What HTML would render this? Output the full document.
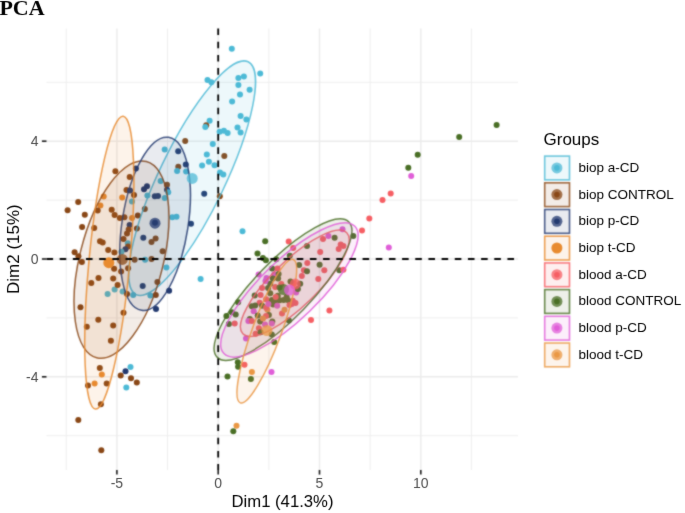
<!DOCTYPE html>
<html><head><meta charset="utf-8"><style>
html,body{margin:0;padding:0;background:#fff;width:685px;height:513px;overflow:hidden}
svg{display:block}
#w{position:absolute;left:0;top:0;width:685px;height:513px;will-change:transform}
text{font-family:"Liberation Sans",sans-serif}
.tk{font-size:14px;fill:#4D4D4D}
.ax{font-size:16.7px;fill:#000}
.lt{font-size:17px;fill:#000}
.lg{font-size:13.5px;fill:#000}
.ttl{font-family:"Liberation Serif",serif;font-weight:bold;font-size:22px;fill:#000}
</style></head><body><div id="w">
<svg width="685" height="513" viewBox="0 0 685 513">
<defs><filter id="bl" x="0" y="0" width="685" height="513" filterUnits="userSpaceOnUse" color-interpolation-filters="sRGB"><feConvolveMatrix order="3" kernelMatrix="1 2 1 2 10 2 1 2 1" divisor="22" edgeMode="duplicate"/></filter><filter id="bt" x="0" y="0" width="685" height="513" filterUnits="userSpaceOnUse" color-interpolation-filters="sRGB"><feConvolveMatrix order="3" kernelMatrix="0 1 0 1 12 1 0 1 0" divisor="16" edgeMode="duplicate"/></filter></defs>
<g filter="url(#bl)"><rect x="0" y="0" width="685" height="513" fill="#fff"/>
<line x1="66.25" y1="28.5" x2="66.25" y2="470.0" stroke="#EEEEEE" stroke-width="1.0"/>
<line x1="167.55" y1="28.5" x2="167.55" y2="470.0" stroke="#EEEEEE" stroke-width="1.0"/>
<line x1="268.85" y1="28.5" x2="268.85" y2="470.0" stroke="#EEEEEE" stroke-width="1.0"/>
<line x1="370.15" y1="28.5" x2="370.15" y2="470.0" stroke="#EEEEEE" stroke-width="1.0"/>
<line x1="471.45" y1="28.5" x2="471.45" y2="470.0" stroke="#EEEEEE" stroke-width="1.0"/>
<line x1="46.5" y1="82.30" x2="518.0" y2="82.30" stroke="#EEEEEE" stroke-width="1.0"/>
<line x1="46.5" y1="200.10" x2="518.0" y2="200.10" stroke="#EEEEEE" stroke-width="1.0"/>
<line x1="46.5" y1="317.90" x2="518.0" y2="317.90" stroke="#EEEEEE" stroke-width="1.0"/>
<line x1="46.5" y1="435.70" x2="518.0" y2="435.70" stroke="#EEEEEE" stroke-width="1.0"/>
<line x1="116.90" y1="28.5" x2="116.90" y2="470.0" stroke="#EBEBEB" stroke-width="1.4"/>
<line x1="218.20" y1="28.5" x2="218.20" y2="470.0" stroke="#EBEBEB" stroke-width="1.4"/>
<line x1="319.50" y1="28.5" x2="319.50" y2="470.0" stroke="#EBEBEB" stroke-width="1.4"/>
<line x1="420.80" y1="28.5" x2="420.80" y2="470.0" stroke="#EBEBEB" stroke-width="1.4"/>
<line x1="46.5" y1="141.20" x2="518.0" y2="141.20" stroke="#EBEBEB" stroke-width="1.4"/>
<line x1="46.5" y1="259.00" x2="518.0" y2="259.00" stroke="#EBEBEB" stroke-width="1.4"/>
<line x1="46.5" y1="376.80" x2="518.0" y2="376.80" stroke="#EBEBEB" stroke-width="1.4"/>
<circle cx="496.6" cy="124.9" r="3.0" fill="#4A6F26"/>
<circle cx="459.2" cy="136.9" r="3.0" fill="#4A6F26"/>
<circle cx="417.7" cy="154.7" r="3.0" fill="#4A6F26"/>
<circle cx="408.3" cy="167.8" r="3.0" fill="#4A6F26"/>
<circle cx="411.2" cy="176.0" r="3.0" fill="#E05FD8"/>
<circle cx="390.7" cy="193.6" r="3.0" fill="#F65F64"/>
<circle cx="382.5" cy="200.0" r="3.0" fill="#F65F64"/>
<circle cx="369.3" cy="218.5" r="3.0" fill="#F65F64"/>
<circle cx="362.0" cy="230.6" r="3.0" fill="#F65F64"/>
<circle cx="353.3" cy="236.1" r="3.0" fill="#4A6F26"/>
<circle cx="388.8" cy="247.4" r="3.0" fill="#E05FD8"/>
<circle cx="342.5" cy="229.3" r="3.0" fill="#E05FD8"/>
<circle cx="328.4" cy="236.1" r="3.0" fill="#E05FD8"/>
<circle cx="323.0" cy="239.1" r="3.0" fill="#F65F64"/>
<circle cx="334.6" cy="237.7" r="3.0" fill="#4A6F26"/>
<circle cx="307.0" cy="245.9" r="3.0" fill="#4A6F26"/>
<circle cx="340.7" cy="244.6" r="3.0" fill="#F65F64"/>
<circle cx="343.4" cy="245.9" r="3.0" fill="#F65F64"/>
<circle cx="338.7" cy="248.9" r="3.0" fill="#F65F64"/>
<circle cx="320.2" cy="252.1" r="3.0" fill="#F65F64"/>
<circle cx="307.3" cy="263.0" r="3.0" fill="#F65F64"/>
<circle cx="299.1" cy="265.0" r="3.0" fill="#4A6F26"/>
<circle cx="319.6" cy="264.8" r="3.0" fill="#4A6F26"/>
<circle cx="324.3" cy="270.2" r="3.0" fill="#F65F64"/>
<circle cx="303.9" cy="270.2" r="3.0" fill="#F65F64"/>
<circle cx="307.0" cy="271.2" r="3.0" fill="#4A6F26"/>
<circle cx="339.3" cy="270.2" r="3.0" fill="#4A6F26"/>
<circle cx="343.4" cy="269.8" r="3.0" fill="#F65F64"/>
<circle cx="242.5" cy="231.3" r="3.0" fill="#4DBAD6"/>
<circle cx="265.2" cy="241.2" r="3.0" fill="#4A6F26"/>
<circle cx="288.7" cy="241.6" r="3.0" fill="#F65F64"/>
<circle cx="257.5" cy="253.4" r="3.0" fill="#4A6F26"/>
<circle cx="262.9" cy="257.9" r="3.0" fill="#4A6F26"/>
<circle cx="265.9" cy="260.3" r="3.0" fill="#4A6F26"/>
<circle cx="276.2" cy="259.3" r="3.0" fill="#4A6F26"/>
<circle cx="289.8" cy="255.7" r="3.0" fill="#4A6F26"/>
<circle cx="293.2" cy="248.0" r="3.0" fill="#F65F64"/>
<circle cx="272.1" cy="268.4" r="3.0" fill="#4A6F26"/>
<circle cx="277.5" cy="268.4" r="3.0" fill="#F65F64"/>
<circle cx="258.6" cy="274.6" r="3.0" fill="#E05FD8"/>
<circle cx="266.5" cy="278.1" r="3.0" fill="#E05FD8"/>
<circle cx="274.2" cy="274.5" r="3.0" fill="#E05FD8"/>
<circle cx="278.6" cy="274.0" r="3.0" fill="#4A6F26"/>
<circle cx="272.8" cy="278.4" r="3.0" fill="#4A6F26"/>
<circle cx="278.1" cy="278.4" r="3.0" fill="#4A6F26"/>
<circle cx="262.0" cy="288.1" r="3.0" fill="#F65F64"/>
<circle cx="260.6" cy="295.0" r="3.0" fill="#F65F64"/>
<circle cx="254.7" cy="295.4" r="3.0" fill="#4A6F26"/>
<circle cx="259.6" cy="302.8" r="3.0" fill="#F65F64"/>
<circle cx="293.7" cy="283.3" r="3.0" fill="#F65F64"/>
<circle cx="292.8" cy="300.8" r="3.0" fill="#F65F64"/>
<circle cx="301.8" cy="275.9" r="3.0" fill="#F65F64"/>
<circle cx="318.3" cy="279.0" r="3.0" fill="#F65F64"/>
<circle cx="300.2" cy="283.7" r="3.0" fill="#4A6F26"/>
<circle cx="296.1" cy="292.4" r="3.0" fill="#E05FD8"/>
<circle cx="297.9" cy="288.9" r="3.0" fill="#4A6F26"/>
<circle cx="329.4" cy="310.6" r="3.0" fill="#F65F64"/>
<circle cx="238.1" cy="302.2" r="3.0" fill="#4A6F26"/>
<circle cx="231.8" cy="312.2" r="3.0" fill="#4A6F26"/>
<circle cx="235.7" cy="314.6" r="3.0" fill="#4A6F26"/>
<circle cx="226.4" cy="316.1" r="3.0" fill="#4A6F26"/>
<circle cx="228.9" cy="323.9" r="3.0" fill="#4A6F26"/>
<circle cx="234.7" cy="323.4" r="3.0" fill="#F65F64"/>
<circle cx="251.8" cy="306.3" r="3.0" fill="#4A6F26"/>
<circle cx="253.7" cy="311.2" r="3.0" fill="#E05FD8"/>
<circle cx="249.8" cy="319.0" r="3.0" fill="#4A6F26"/>
<circle cx="248.4" cy="320.9" r="3.0" fill="#E05FD8"/>
<circle cx="251.8" cy="320.9" r="3.0" fill="#F65F64"/>
<circle cx="260.1" cy="321.4" r="3.0" fill="#4A6F26"/>
<circle cx="265.0" cy="324.4" r="3.0" fill="#E05FD8"/>
<circle cx="258.9" cy="328.2" r="3.0" fill="#F65F64"/>
<circle cx="255.6" cy="333.8" r="3.0" fill="#F65F64"/>
<circle cx="246.0" cy="338.5" r="3.0" fill="#E05FD8"/>
<circle cx="237.8" cy="362.3" r="3.0" fill="#4A6F26"/>
<circle cx="238.1" cy="366.8" r="3.0" fill="#4A6F26"/>
<circle cx="244.5" cy="364.7" r="3.0" fill="#F65F64"/>
<circle cx="251.9" cy="372.0" r="3.0" fill="#EA9845"/>
<circle cx="227.5" cy="376.4" r="3.0" fill="#4A6F26"/>
<circle cx="250.9" cy="379.1" r="3.0" fill="#4A6F26"/>
<circle cx="271.5" cy="372.0" r="3.0" fill="#E05FD8"/>
<circle cx="236.5" cy="425.8" r="3.0" fill="#EA9845"/>
<circle cx="233.3" cy="431.3" r="3.0" fill="#4A6F26"/>
<circle cx="255.2" cy="305.4" r="3.0" fill="#4A6F26"/>
<circle cx="267.4" cy="309.7" r="3.0" fill="#EA9845"/>
<circle cx="262.1" cy="305.8" r="3.0" fill="#4A6F26"/>
<circle cx="282.0" cy="313.6" r="3.0" fill="#F65F64"/>
<circle cx="284.5" cy="309.7" r="3.0" fill="#EA9845"/>
<circle cx="291.8" cy="303.9" r="3.0" fill="#F65F64"/>
<circle cx="257.7" cy="315.6" r="3.0" fill="#4A6F26"/>
<circle cx="268.9" cy="315.1" r="3.0" fill="#4A6F26"/>
<circle cx="266.0" cy="316.1" r="3.0" fill="#F65F64"/>
<circle cx="263.0" cy="318.5" r="3.0" fill="#EA9845"/>
<circle cx="272.3" cy="321.5" r="3.0" fill="#4A6F26"/>
<circle cx="271.8" cy="323.4" r="3.0" fill="#E05FD8"/>
<circle cx="288.9" cy="320.5" r="3.0" fill="#4A6F26"/>
<circle cx="260.6" cy="332.2" r="3.0" fill="#4A6F26"/>
<circle cx="271.8" cy="334.6" r="3.0" fill="#4A6F26"/>
<circle cx="274.2" cy="341.9" r="3.0" fill="#4A6F26"/>
<circle cx="311.0" cy="319.9" r="3.0" fill="#F65F64"/>
<circle cx="295.5" cy="302.9" r="3.0" fill="#F65F64"/>
<circle cx="115.4" cy="171.2" r="3.0" fill="#8A4817"/>
<circle cx="129.7" cy="177.0" r="3.0" fill="#8A4817"/>
<circle cx="135.9" cy="168.6" r="3.0" fill="#233A70"/>
<circle cx="126.5" cy="190.0" r="3.0" fill="#8A4817"/>
<circle cx="130.0" cy="190.6" r="3.0" fill="#233A70"/>
<circle cx="134.0" cy="195.0" r="3.0" fill="#8A4817"/>
<circle cx="147.4" cy="195.5" r="3.0" fill="#4DBAD6"/>
<circle cx="154.8" cy="196.3" r="3.0" fill="#233A70"/>
<circle cx="158.0" cy="196.0" r="3.0" fill="#233A70"/>
<circle cx="103.7" cy="196.5" r="3.0" fill="#E88B30"/>
<circle cx="122.2" cy="197.4" r="3.0" fill="#E88B30"/>
<circle cx="78.2" cy="201.9" r="3.0" fill="#8A4817"/>
<circle cx="67.6" cy="210.3" r="3.0" fill="#8A4817"/>
<circle cx="84.8" cy="214.7" r="3.0" fill="#8A4817"/>
<circle cx="100.4" cy="205.4" r="3.0" fill="#E88B30"/>
<circle cx="97.7" cy="210.5" r="3.0" fill="#8A4817"/>
<circle cx="111.7" cy="209.7" r="3.0" fill="#8A4817"/>
<circle cx="114.6" cy="215.0" r="3.0" fill="#8A4817"/>
<circle cx="160.6" cy="181.1" r="3.0" fill="#4DBAD6"/>
<circle cx="167.0" cy="184.8" r="3.0" fill="#8A4817"/>
<circle cx="167.0" cy="189.8" r="3.0" fill="#233A70"/>
<circle cx="168.2" cy="192.2" r="3.0" fill="#4DBAD6"/>
<circle cx="164.7" cy="198.0" r="3.0" fill="#4DBAD6"/>
<circle cx="132.0" cy="201.5" r="3.0" fill="#4DBAD6"/>
<circle cx="144.8" cy="208.9" r="3.0" fill="#8A4817"/>
<circle cx="124.4" cy="217.3" r="3.0" fill="#8A4817"/>
<circle cx="137.8" cy="215.6" r="3.0" fill="#8A4817"/>
<circle cx="132.0" cy="217.9" r="3.0" fill="#E88B30"/>
<circle cx="172.3" cy="217.3" r="3.0" fill="#4DBAD6"/>
<circle cx="176.5" cy="216.8" r="3.0" fill="#4DBAD6"/>
<circle cx="155.0" cy="222.8" r="3.0" fill="#233A70"/>
<circle cx="178.3" cy="166.8" r="3.0" fill="#8A4817"/>
<circle cx="177.1" cy="171.1" r="3.0" fill="#4DBAD6"/>
<circle cx="185.8" cy="164.4" r="3.0" fill="#233A70"/>
<circle cx="186.1" cy="171.5" r="3.0" fill="#4DBAD6"/>
<circle cx="202.1" cy="165.6" r="3.0" fill="#4DBAD6"/>
<circle cx="208.9" cy="161.8" r="3.0" fill="#4DBAD6"/>
<circle cx="214.5" cy="165.3" r="3.0" fill="#4DBAD6"/>
<circle cx="220.0" cy="172.6" r="3.0" fill="#4DBAD6"/>
<circle cx="223.3" cy="174.6" r="3.0" fill="#4DBAD6"/>
<circle cx="204.2" cy="193.7" r="3.0" fill="#233A70"/>
<circle cx="219.8" cy="196.3" r="3.0" fill="#8A4817"/>
<circle cx="209.6" cy="120.7" r="3.0" fill="#4DBAD6"/>
<circle cx="206.2" cy="125.2" r="3.0" fill="#8A4817"/>
<circle cx="205.3" cy="127.0" r="3.0" fill="#4DBAD6"/>
<circle cx="219.6" cy="131.7" r="3.0" fill="#4DBAD6"/>
<circle cx="185.2" cy="140.9" r="3.0" fill="#8A4817"/>
<circle cx="212.8" cy="143.9" r="3.0" fill="#4DBAD6"/>
<circle cx="164.7" cy="149.4" r="3.0" fill="#4DBAD6"/>
<circle cx="178.2" cy="151.2" r="3.0" fill="#233A70"/>
<circle cx="206.8" cy="154.6" r="3.0" fill="#4DBAD6"/>
<circle cx="232.1" cy="101.6" r="3.0" fill="#4DBAD6"/>
<circle cx="240.6" cy="116.1" r="3.0" fill="#4DBAD6"/>
<circle cx="246.4" cy="119.4" r="3.0" fill="#4DBAD6"/>
<circle cx="223.9" cy="130.7" r="3.0" fill="#4DBAD6"/>
<circle cx="227.6" cy="133.0" r="3.0" fill="#4DBAD6"/>
<circle cx="237.5" cy="127.6" r="3.0" fill="#4DBAD6"/>
<circle cx="240.6" cy="132.5" r="3.0" fill="#4DBAD6"/>
<circle cx="224.3" cy="155.9" r="3.0" fill="#8A4817"/>
<circle cx="207.5" cy="79.9" r="3.0" fill="#4DBAD6"/>
<circle cx="211.4" cy="82.3" r="3.0" fill="#4DBAD6"/>
<circle cx="231.8" cy="48.7" r="3.0" fill="#4DBAD6"/>
<circle cx="238.4" cy="77.9" r="3.0" fill="#4DBAD6"/>
<circle cx="243.9" cy="76.5" r="3.0" fill="#4DBAD6"/>
<circle cx="260.2" cy="73.4" r="3.0" fill="#4DBAD6"/>
<circle cx="238.4" cy="84.9" r="3.0" fill="#4DBAD6"/>
<circle cx="249.6" cy="89.8" r="3.0" fill="#4DBAD6"/>
<circle cx="240.0" cy="94.4" r="3.0" fill="#4DBAD6"/>
<circle cx="82.1" cy="226.9" r="3.0" fill="#8A4817"/>
<circle cx="94.2" cy="228.1" r="3.0" fill="#8A4817"/>
<circle cx="100.0" cy="241.3" r="3.0" fill="#8A4817"/>
<circle cx="102.7" cy="242.5" r="3.0" fill="#8A4817"/>
<circle cx="108.2" cy="249.9" r="3.0" fill="#8A4817"/>
<circle cx="114.4" cy="252.4" r="3.0" fill="#8A4817"/>
<circle cx="74.6" cy="252.2" r="3.0" fill="#8A4817"/>
<circle cx="78.4" cy="256.2" r="3.0" fill="#8A4817"/>
<circle cx="81.9" cy="262.0" r="3.0" fill="#8A4817"/>
<circle cx="114.1" cy="268.8" r="3.0" fill="#8A4817"/>
<circle cx="119.9" cy="217.9" r="3.0" fill="#8A4817"/>
<circle cx="191.0" cy="223.8" r="3.0" fill="#233A70"/>
<circle cx="129.6" cy="224.9" r="3.0" fill="#233A70"/>
<circle cx="128.7" cy="229.6" r="3.0" fill="#8A4817"/>
<circle cx="136.9" cy="228.5" r="3.0" fill="#8A4817"/>
<circle cx="127.0" cy="233.5" r="3.0" fill="#8A4817"/>
<circle cx="143.3" cy="237.8" r="3.0" fill="#233A70"/>
<circle cx="155.6" cy="238.4" r="3.0" fill="#8A4817"/>
<circle cx="151.5" cy="242.1" r="3.0" fill="#8A4817"/>
<circle cx="123.5" cy="239.0" r="3.0" fill="#8A4817"/>
<circle cx="127.8" cy="243.3" r="3.0" fill="#4DBAD6"/>
<circle cx="128.1" cy="246.6" r="3.0" fill="#8A4817"/>
<circle cx="125.4" cy="249.2" r="3.0" fill="#233A70"/>
<circle cx="121.5" cy="251.8" r="3.0" fill="#4DBAD6"/>
<circle cx="162.6" cy="251.3" r="3.0" fill="#8A4817"/>
<circle cx="134.6" cy="259.7" r="3.0" fill="#8A4817"/>
<circle cx="145.1" cy="259.7" r="3.0" fill="#4DBAD6"/>
<circle cx="151.5" cy="258.9" r="3.0" fill="#8A4817"/>
<circle cx="166.4" cy="267.4" r="3.0" fill="#4DBAD6"/>
<circle cx="121.1" cy="271.4" r="3.0" fill="#8A4817"/>
<circle cx="128.1" cy="268.2" r="3.0" fill="#8A4817"/>
<circle cx="98.5" cy="278.0" r="3.0" fill="#8A4817"/>
<circle cx="91.3" cy="282.9" r="3.0" fill="#8A4817"/>
<circle cx="113.2" cy="278.4" r="3.0" fill="#8A4817"/>
<circle cx="107.6" cy="294.0" r="3.0" fill="#4DBAD6"/>
<circle cx="114.6" cy="289.6" r="3.0" fill="#4DBAD6"/>
<circle cx="80.5" cy="307.2" r="3.0" fill="#8A4817"/>
<circle cx="98.3" cy="319.7" r="3.0" fill="#8A4817"/>
<circle cx="86.8" cy="326.7" r="3.0" fill="#8A4817"/>
<circle cx="113.2" cy="325.6" r="3.0" fill="#8A4817"/>
<circle cx="117.6" cy="285.0" r="3.0" fill="#8A4817"/>
<circle cx="122.6" cy="291.6" r="3.0" fill="#4DBAD6"/>
<circle cx="127.0" cy="294.0" r="3.0" fill="#8A4817"/>
<circle cx="133.2" cy="295.1" r="3.0" fill="#4DBAD6"/>
<circle cx="142.7" cy="286.1" r="3.0" fill="#233A70"/>
<circle cx="157.4" cy="281.9" r="3.0" fill="#8A4817"/>
<circle cx="150.4" cy="295.5" r="3.0" fill="#4DBAD6"/>
<circle cx="155.8" cy="295.1" r="3.0" fill="#8A4817"/>
<circle cx="169.1" cy="290.8" r="3.0" fill="#233A70"/>
<circle cx="156.0" cy="309.0" r="3.0" fill="#233A70"/>
<circle cx="123.5" cy="312.7" r="3.0" fill="#8A4817"/>
<circle cx="110.9" cy="340.8" r="3.0" fill="#8A4817"/>
<circle cx="99.8" cy="368.0" r="3.0" fill="#8A4817"/>
<circle cx="101.8" cy="374.4" r="3.0" fill="#E88B30"/>
<circle cx="94.6" cy="383.4" r="3.0" fill="#E88B30"/>
<circle cx="106.7" cy="383.4" r="3.0" fill="#8A4817"/>
<circle cx="88.0" cy="385.5" r="3.0" fill="#8A4817"/>
<circle cx="130.5" cy="366.9" r="3.0" fill="#4DBAD6"/>
<circle cx="125.5" cy="371.2" r="3.0" fill="#233A70"/>
<circle cx="120.7" cy="375.6" r="3.0" fill="#8A4817"/>
<circle cx="131.0" cy="378.3" r="3.0" fill="#8A4817"/>
<circle cx="136.8" cy="382.6" r="3.0" fill="#8A4817"/>
<circle cx="126.3" cy="387.5" r="3.0" fill="#4DBAD6"/>
<circle cx="100.9" cy="404.2" r="3.0" fill="#8A4817"/>
<circle cx="78.3" cy="419.9" r="3.0" fill="#8A4817"/>
<circle cx="101.3" cy="450.2" r="3.0" fill="#8A4817"/>
<circle cx="200.6" cy="278.9" r="3.0" fill="#4DBAD6"/>
<circle cx="281.3" cy="284.1" r="3.0" fill="#F65F64"/>
<circle cx="275.2" cy="287.0" r="3.0" fill="#F65F64"/>
<circle cx="270.2" cy="283.8" r="3.0" fill="#4A6F26"/>
<circle cx="268.1" cy="287.9" r="3.0" fill="#4A6F26"/>
<circle cx="270.2" cy="293.2" r="3.0" fill="#4A6F26"/>
<circle cx="279.5" cy="287.6" r="3.0" fill="#4A6F26"/>
<circle cx="277.8" cy="295.8" r="3.0" fill="#4A6F26"/>
<circle cx="286.6" cy="297.0" r="3.0" fill="#4A6F26"/>
<circle cx="287.7" cy="299.9" r="3.0" fill="#4A6F26"/>
<circle cx="283.6" cy="299.9" r="3.0" fill="#4A6F26"/>
<circle cx="279.5" cy="300.2" r="3.0" fill="#4A6F26"/>
<circle cx="275.5" cy="300.5" r="3.0" fill="#4A6F26"/>
<circle cx="271.9" cy="299.9" r="3.0" fill="#4A6F26"/>
<circle cx="273.1" cy="304.6" r="3.0" fill="#4A6F26"/>
<circle cx="269.6" cy="302.2" r="3.0" fill="#4A6F26"/>
<circle cx="275.7" cy="297.0" r="3.0" fill="#F65F64"/>
<circle cx="266.1" cy="299.3" r="3.0" fill="#F65F64"/>
<circle cx="266.1" cy="307.5" r="3.0" fill="#F65F64"/>
<circle cx="268.4" cy="304.0" r="3.0" fill="#E05FD8"/>
<circle cx="277.2" cy="305.7" r="3.0" fill="#E05FD8"/>
<circle cx="289.5" cy="305.1" r="3.0" fill="#F65F64"/>
<circle cx="265.5" cy="281.0" r="3.0" fill="#E05FD8"/>
<circle cx="290.5" cy="281.5" r="3.0" fill="#4A6F26"/>
<circle cx="144.0" cy="189.2" r="3.0" fill="#233A70"/>
<circle cx="147.0" cy="186.2" r="3.0" fill="#233A70"/>
<ellipse cx="192.1" cy="178.2" rx="129.2" ry="32.9" transform="rotate(-64.3 192.1 178.2)" fill="#4DBAD6" fill-opacity="0.1" stroke="#4DBAD6" stroke-width="1.5" stroke-opacity="0.85"/>
<ellipse cx="121.5" cy="259.6" rx="101.2" ry="41.7" transform="rotate(-75.8 121.5 259.6)" fill="#8A4817" fill-opacity="0.1" stroke="#8A4817" stroke-width="1.5" stroke-opacity="0.85"/>
<ellipse cx="155.1" cy="223.8" rx="87.5" ry="33.0" transform="rotate(-81.1 155.1 223.8)" fill="#233A70" fill-opacity="0.1" stroke="#233A70" stroke-width="1.5" stroke-opacity="0.85"/>
<ellipse cx="109.3" cy="262.6" rx="147.1" ry="20.4" transform="rotate(-84.6 109.3 262.6)" fill="#E88B30" fill-opacity="0.1" stroke="#E88B30" stroke-width="1.5" stroke-opacity="0.85"/>
<ellipse cx="294.8" cy="283.3" rx="72.5" ry="22.7" transform="rotate(-44.2 294.8 283.3)" fill="#F65F64" fill-opacity="0.1" stroke="#F65F64" stroke-width="1.5" stroke-opacity="0.85"/>
<ellipse cx="283.0" cy="289.6" rx="94.4" ry="28.5" transform="rotate(-45.9 283.0 289.6)" fill="#4A6F26" fill-opacity="0.1" stroke="#4A6F26" stroke-width="1.5" stroke-opacity="0.85"/>
<ellipse cx="289.4" cy="289.9" rx="91.3" ry="29.4" transform="rotate(-44.2 289.4 289.9)" fill="#E05FD8" fill-opacity="0.1" stroke="#E05FD8" stroke-width="1.5" stroke-opacity="0.85"/>
<ellipse cx="266.8" cy="331.2" rx="76.4" ry="14.5" transform="rotate(-69.7 266.8 331.2)" fill="#EA9845" fill-opacity="0.1" stroke="#EA9845" stroke-width="1.5" stroke-opacity="0.85"/>
<circle cx="192.2" cy="178.4" r="5.5" fill="#4DBAD6" fill-opacity="0.75"/>
<circle cx="122.3" cy="259.4" r="5.5" fill="#8A4817" fill-opacity="0.75"/>
<circle cx="155.0" cy="223.2" r="5.5" fill="#233A70" fill-opacity="0.75"/>
<circle cx="108.8" cy="262.7" r="5.5" fill="#E88B30" fill-opacity="1.0"/>
<circle cx="295.2" cy="284.1" r="5.5" fill="#F65F64" fill-opacity="0.75"/>
<circle cx="283.5" cy="289.5" r="5.5" fill="#4A6F26" fill-opacity="0.75"/>
<circle cx="289.5" cy="290.1" r="5.5" fill="#E05FD8" fill-opacity="0.75"/>
<circle cx="266.9" cy="330.5" r="5.5" fill="#EA9845" fill-opacity="0.75"/>
<line x1="218.2" y1="28.5" x2="218.2" y2="470.0" stroke="#000" stroke-width="1.8" stroke-dasharray="6.6 6.6"/>
<line x1="46.5" y1="259.0" x2="518.0" y2="259.0" stroke="#000" stroke-width="1.8" stroke-dasharray="6.58 6.59"/>
<line x1="116.90" y1="470.0" x2="116.90" y2="474.6" stroke="#1A1A1A" stroke-width="1.6"/>
<line x1="218.20" y1="470.0" x2="218.20" y2="474.6" stroke="#1A1A1A" stroke-width="1.6"/>
<line x1="319.50" y1="470.0" x2="319.50" y2="474.6" stroke="#1A1A1A" stroke-width="1.6"/>
<line x1="420.80" y1="470.0" x2="420.80" y2="474.6" stroke="#1A1A1A" stroke-width="1.6"/>
<line x1="41.9" y1="141.20" x2="46.5" y2="141.20" stroke="#1A1A1A" stroke-width="1.6"/>
<line x1="41.9" y1="259.00" x2="46.5" y2="259.00" stroke="#1A1A1A" stroke-width="1.6"/>
<line x1="41.9" y1="376.80" x2="46.5" y2="376.80" stroke="#1A1A1A" stroke-width="1.6"/>
<rect x="544.7" y="156.10" width="24.8" height="23.8" fill="#4DBAD6" fill-opacity="0.1" stroke="#4DBAD6" stroke-width="1.6" stroke-opacity="0.8"/>
<circle cx="556.9" cy="167.90" r="5.5" fill="#4DBAD6" fill-opacity="0.75"/>
<circle cx="556.9" cy="167.90" r="2.8" fill="#4DBAD6"/>
<rect x="544.7" y="182.80" width="24.8" height="23.8" fill="#8A4817" fill-opacity="0.1" stroke="#8A4817" stroke-width="1.6" stroke-opacity="0.8"/>
<circle cx="556.9" cy="194.60" r="5.5" fill="#8A4817" fill-opacity="0.75"/>
<circle cx="556.9" cy="194.60" r="2.8" fill="#8A4817"/>
<rect x="544.7" y="209.50" width="24.8" height="23.8" fill="#233A70" fill-opacity="0.1" stroke="#233A70" stroke-width="1.6" stroke-opacity="0.8"/>
<circle cx="556.9" cy="221.30" r="5.5" fill="#233A70" fill-opacity="0.75"/>
<circle cx="556.9" cy="221.30" r="2.8" fill="#233A70"/>
<rect x="544.7" y="236.20" width="24.8" height="23.8" fill="#E88B30" fill-opacity="0.1" stroke="#E88B30" stroke-width="1.6" stroke-opacity="0.8"/>
<circle cx="556.9" cy="248.00" r="5.5" fill="#E88B30" fill-opacity="1.0"/>
<circle cx="556.9" cy="248.00" r="2.8" fill="#E88B30"/>
<rect x="544.7" y="262.90" width="24.8" height="23.8" fill="#F65F64" fill-opacity="0.1" stroke="#F65F64" stroke-width="1.6" stroke-opacity="0.8"/>
<circle cx="556.9" cy="274.70" r="5.5" fill="#F65F64" fill-opacity="0.75"/>
<circle cx="556.9" cy="274.70" r="2.8" fill="#F65F64"/>
<rect x="544.7" y="289.60" width="24.8" height="23.8" fill="#4A6F26" fill-opacity="0.1" stroke="#4A6F26" stroke-width="1.6" stroke-opacity="0.8"/>
<circle cx="556.9" cy="301.40" r="5.5" fill="#4A6F26" fill-opacity="0.75"/>
<circle cx="556.9" cy="301.40" r="2.8" fill="#4A6F26"/>
<rect x="544.7" y="316.30" width="24.8" height="23.8" fill="#E05FD8" fill-opacity="0.1" stroke="#E05FD8" stroke-width="1.6" stroke-opacity="0.8"/>
<circle cx="556.9" cy="328.10" r="5.5" fill="#E05FD8" fill-opacity="0.75"/>
<circle cx="556.9" cy="328.10" r="2.8" fill="#E05FD8"/>
<rect x="544.7" y="343.00" width="24.8" height="23.8" fill="#EA9845" fill-opacity="0.1" stroke="#EA9845" stroke-width="1.6" stroke-opacity="0.8"/>
<circle cx="556.9" cy="354.80" r="5.5" fill="#EA9845" fill-opacity="0.75"/>
<circle cx="556.9" cy="354.80" r="2.8" fill="#EA9845"/>
</g>
<g filter="url(#bt)">
<text x="116.90" y="488" text-anchor="middle" class="tk">-5</text>
<text x="218.20" y="488" text-anchor="middle" class="tk">0</text>
<text x="319.50" y="488" text-anchor="middle" class="tk">5</text>
<text x="420.80" y="488" text-anchor="middle" class="tk">10</text>
<text x="38.5" y="145.90" text-anchor="end" class="tk">4</text>
<text x="38.5" y="263.70" text-anchor="end" class="tk">0</text>
<text x="38.5" y="381.50" text-anchor="end" class="tk">-4</text>
<text x="282.5" y="506.5" text-anchor="middle" class="ax">Dim1 (41.3%)</text>
<text transform="translate(18.6 249.1) rotate(-90)" text-anchor="middle" class="ax" style="font-size:17px">Dim2 (15%)</text>
<text x="-0.6" y="14.8" class="ttl">PCA</text>
<text x="543.5" y="144.5" class="lt">Groups</text>
<text x="578.5" y="171.90" class="lg">biop a-CD</text>
<text x="578.5" y="198.60" class="lg">biop CONTROL</text>
<text x="578.5" y="225.30" class="lg">biop p-CD</text>
<text x="578.5" y="252.00" class="lg">biop t-CD</text>
<text x="578.5" y="278.70" class="lg">blood a-CD</text>
<text x="578.5" y="305.40" class="lg">blood CONTROL</text>
<text x="578.5" y="332.10" class="lg">blood p-CD</text>
<text x="578.5" y="358.80" class="lg">blood t-CD</text>
</g>
</svg>
</div></body></html>
